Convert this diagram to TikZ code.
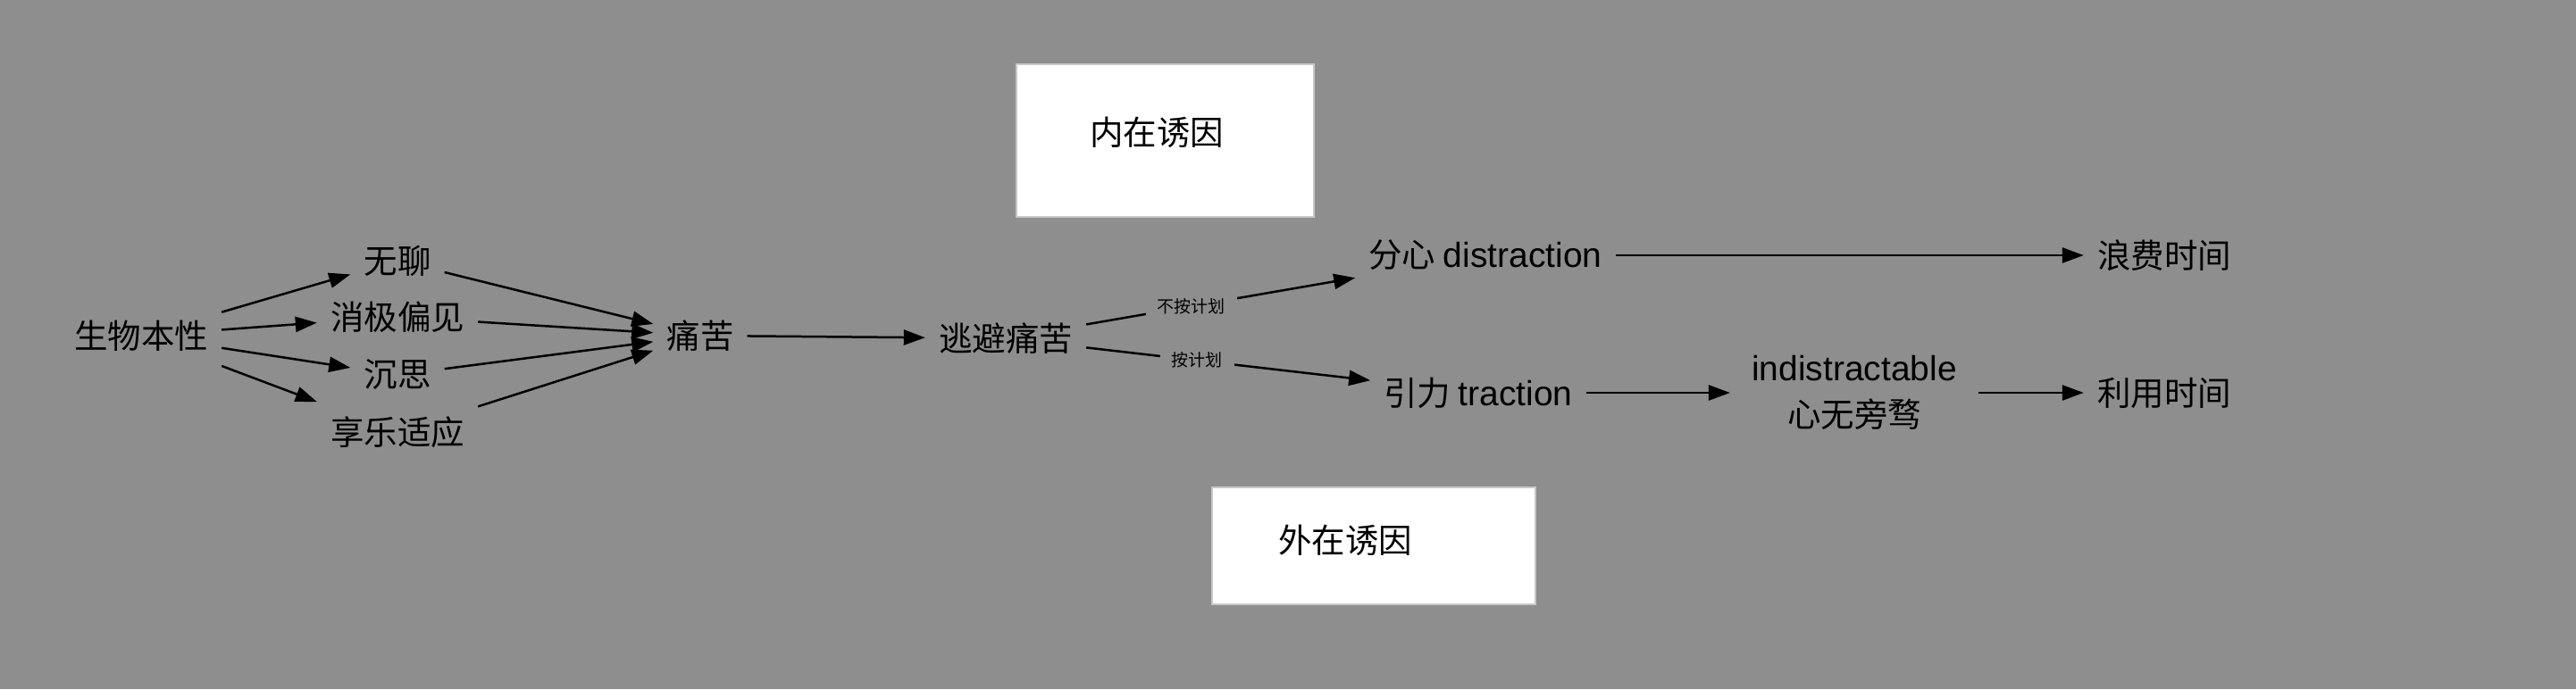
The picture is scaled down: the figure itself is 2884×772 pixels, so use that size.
\documentclass[tikz,border=0pt]{standalone}
\usepackage{fontspec}
\setmainfont{Liberation Sans}
\newfontfamily\cjk{Noto Sans CJK SC}
\usetikzlibrary{arrows.meta}
\definecolor{bg}{HTML}{8E8E8E}
\definecolor{boxline}{HTML}{C8C8C8}
\begin{document}
\begin{tikzpicture}[x=1pt,y=-1pt,
  txt/.style={inner xsep=15pt, inner ysep=0pt, minimum height=70pt, text=black, font=\cjk\fontsize{37.5}{45}\selectfont},
  conn/.style={line width=2.5pt, draw=black, -{Triangle[length=24pt,width=17pt]}},
  lbl/.style={fill=bg, inner xsep=13pt, inner ysep=2pt, text=black, font=\cjk\fontsize{19}{19}\selectfont},
  box/.style={fill=white, draw=boxline, line width=1.2pt, inner sep=0pt}]
\useasboundingbox (0,0) rectangle (2884,772);
\fill[bg] (0,0) rectangle (2884,772);

% boxes
\node[box, minimum width=333pt, minimum height=171pt] (ibox) at (1304.5,157.5) {};
\node[txt, minimum height=0pt] (itext) at (1295,148) {内在诱因};
\node[box, minimum width=362pt, minimum height=131pt] (ebox) at (1538,611.5) {};
\node[txt, minimum height=0pt] (etext) at (1506,605) {外在诱因};

% nodes
\node[txt] (a) at (158,376) {生物本性};
\node[txt] (b1) at (445,292) {无聊};
\node[txt] (b2) at (445,355) {消极偏见};
\node[txt] (b3) at (445,420) {沉思};
\node[txt] (b4) at (445,484) {享乐适应};
\node[txt] (c) at (784,376) {痛苦};
\node[txt] (d) at (1126,379) {逃避痛苦};
\node[txt] (e) at (1663,286) {分心 {\rmfamily\fontsize{39}{45}\selectfont distraction}};
\node[txt] (f) at (2423,286) {浪费时间};
\node[txt] (g) at (1655,440) {引力 {\rmfamily\fontsize{39}{45}\selectfont traction}};
\node[txt, inner xsep=24pt, align=center, font=\rmfamily\fontsize{39}{52}\selectfont] (h) at (2076,440) {indistractable\\{\cjk\fontsize{37.5}{52}\selectfont 心无旁骛}};
\node[txt] (i) at (2423,440) {利用时间};

% connectors
\draw[conn] (a) -- (b1);
\draw[conn] (a) -- (b2);
\draw[conn] (a) -- (b3);
\draw[conn] (a) -- (b4);
\draw[conn] (b1) -- (c);
\draw[conn] (b2) -- (c);
\draw[conn] (b3) -- (c);
\draw[conn] (b4) -- (c);
\draw[conn] (c) -- (d);
\draw[conn] (d) -- node[lbl, pos=0.39] (l1) {不按计划} (e);
\draw[conn] (d) -- node[lbl, pos=0.39] (l2) {按计划} (g);
\draw[conn] (e) -- (f);
\draw[conn] (g) -- (h);
\draw[conn] (h) -- (i);
\end{tikzpicture}
\end{document}
